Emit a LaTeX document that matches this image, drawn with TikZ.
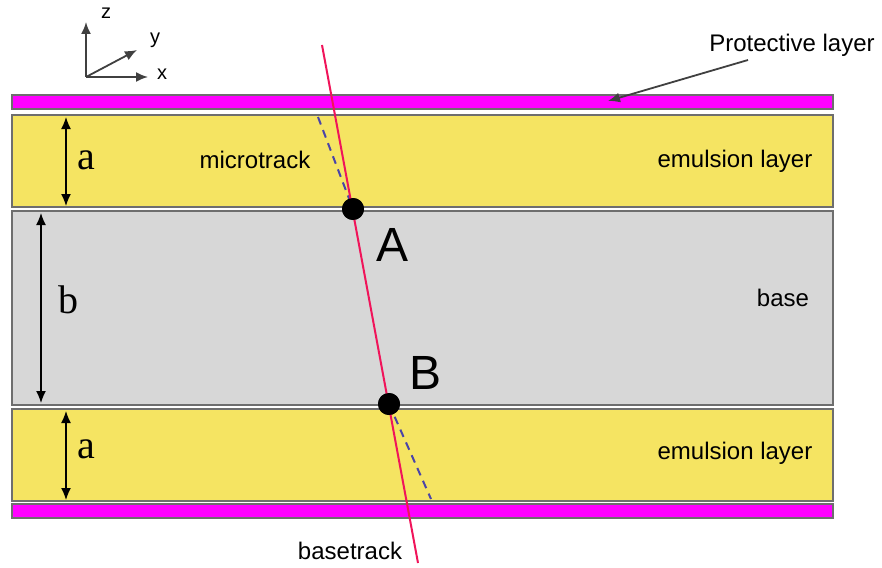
\documentclass[tikz,border=0pt]{standalone}
\usepackage{fontspec}
\setmainfont{Liberation Serif}
\setsansfont{Liberation Sans}
\usetikzlibrary{arrows.meta,positioning,calc}
\definecolor{cEmul}{HTML}{F5E462}
\definecolor{cBase}{HTML}{D7D7D7}
\definecolor{cProt}{HTML}{FF00FF}
\definecolor{cEdge}{HTML}{6E6E6E}
\definecolor{cTrack}{HTML}{F0145A}
\definecolor{cMicro}{HTML}{4A44A8}

\tikzset{
  layer/.style={draw=cEdge,line width=0.8pt},
  lbl/.style={font=\sffamily\fontsize{12}{14}\selectfont},
  dim/.style={{Latex[length=6pt,width=5pt]}-{Latex[length=6pt,width=5pt]},line width=0.7pt},
}

\begin{document}
\begin{tikzpicture}[x=0.5pt,y=-0.5pt]
  \useasboundingbox (0,0) rectangle (882,567);
  % layers of the sheet
  \filldraw[layer,fill=cProt] (12,95) rectangle (833,109);
  \filldraw[layer,fill=cEmul] (12,115) rectangle (833,207);
  \filldraw[layer,fill=cBase] (12,211) rectangle (833,405);
  \filldraw[layer,fill=cEmul] (12,409) rectangle (833,501);
  \filldraw[layer,fill=cProt] (12,504) rectangle (833,518);

  % axes
  \coordinate (o) at (86,77);
  \coordinate (zEnd) at (86,22);
  \coordinate (xEnd) at (148,77);
  \coordinate (yEnd) at (137,50);
  \draw[-{Latex[length=6pt,width=5pt]},line width=0.9pt,black!75] (o)--(zEnd);
  \draw[-{Latex[length=6pt,width=5pt]},line width=0.9pt,black!75] (o)--(xEnd);
  \draw[-{Latex[length=6pt,width=5pt]},line width=0.9pt,black!75] (o)--(yEnd);
  \node[font=\sffamily\fontsize{10}{12}\selectfont] (zLbl) at (106,13) {z};
  \node[font=\sffamily\fontsize{10}{12}\selectfont] (yLbl) at (155,40) {y};
  \node[font=\sffamily\fontsize{10}{12}\selectfont] (xLbl) at (162,74) {x};

  % track and microtracks
  \coordinate (tTop) at (322,45);
  \coordinate (tBot) at (418,563);
  \coordinate (mTop) at (318,117);
  \coordinate (mBot) at (431,499);
  \node[circle,fill=black,inner sep=0pt,minimum size=11pt] (dotA) at (353,209) {};
  \node[circle,fill=black,inner sep=0pt,minimum size=11pt] (dotB) at (389,404) {};
  \draw[cMicro,dash pattern=on 4pt off 3pt,line width=1pt] (mTop)--(dotA.center);
  \draw[cMicro,dash pattern=on 4pt off 3pt,line width=1pt] (dotB.center)--(mBot);
  \draw[cTrack,line width=1pt] (tTop)--(tBot);
  \node[circle,fill=black,inner sep=0pt,minimum size=11pt] at (dotA) {};
  \node[circle,fill=black,inner sep=0pt,minimum size=11pt] at (dotB) {};
  \node[font=\sffamily\fontsize{24}{28}\selectfont] (lblA) at (393,245) {A};
  \node[font=\sffamily\fontsize{24}{28}\selectfont] (lblB) at (425,373) {B};

  % thicknesses
  \coordinate (a1t) at (66,117);
  \coordinate (a1b) at (66,206);
  \coordinate (bt) at (41,213);
  \coordinate (bb) at (41,403);
  \coordinate (a2t) at (66,411);
  \coordinate (a2b) at (66,500);
  \draw[dim] (a1t)--(a1b);
  \draw[dim] (bt)--(bb);
  \draw[dim] (a2t)--(a2b);
  \node[font=\fontsize{20}{24}\selectfont] (lblA1) at (86,160) {a};
  \node[font=\fontsize{20}{24}\selectfont] (lblBase) at (68,300) {b};
  \node[font=\fontsize{20}{24}\selectfont] (lblA2) at (86,449) {a};

  % texts
  \node[lbl] (micro) at (255,160) {microtrack};
  \node[lbl] (emTop) at (735,161) {emulsion layer};
  \node[lbl] (emBot) at (735,453) {emulsion layer};
  \node[lbl] (base) at (783,298) {base};
  \node[lbl] (basetrack) at (350,551) {basetrack};
  \node[lbl] (prot) at (792,45) {Protective layer};
  \coordinate (protStart) at (748,60);
  \coordinate (protTip) at (608,101);
  \draw[-{Latex[length=6pt,width=5pt]},line width=0.9pt,black!75] (protStart) -- (protTip);
\end{tikzpicture}
\end{document}
